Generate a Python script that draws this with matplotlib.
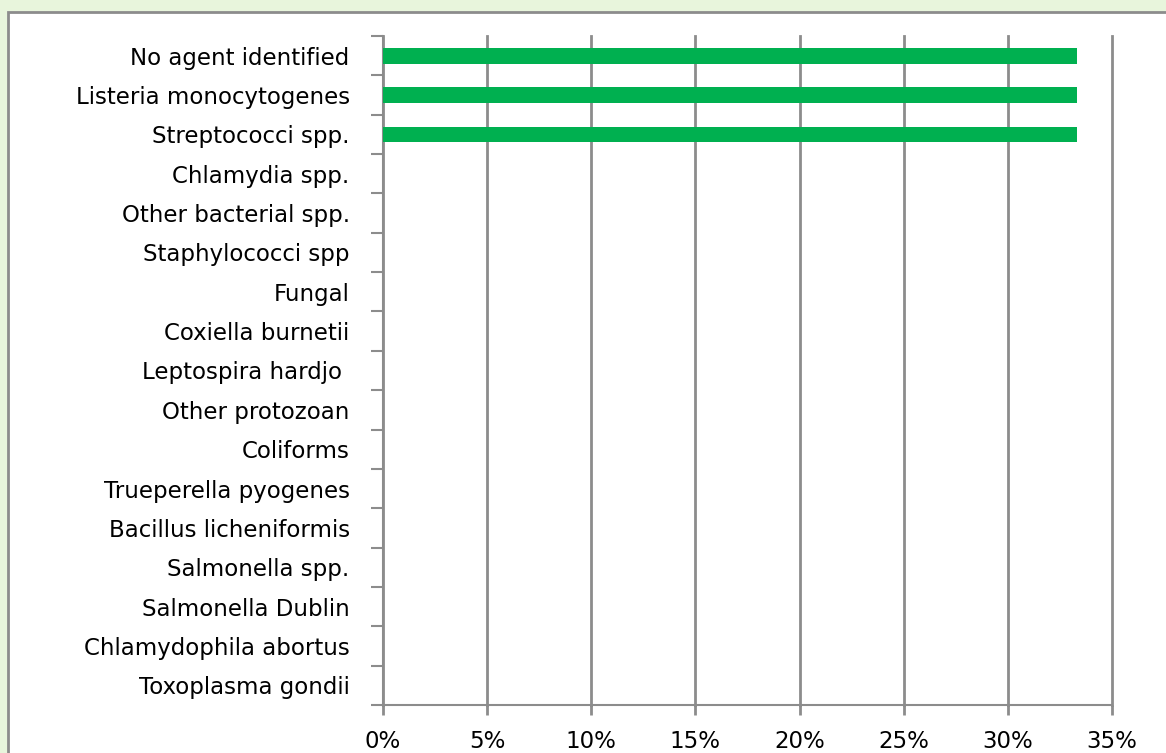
import numpy as np
import matplotlib
matplotlib.use("Agg")
import matplotlib.pyplot as plt
from matplotlib.patches import Rectangle
from matplotlib.ticker import FuncFormatter, FixedLocator

agents = ["No agent identified", "Listeria monocytogenes", "Streptococci spp.",
          "Chlamydia spp.", "Other bacterial spp.", "Staphylococci spp",
          "Fungal", "Coxiella burnetii", "Leptospira hardjo ", "Other protozoan",
          "Coliforms", "Trueperella pyogenes", "Bacillus licheniformis",
          "Salmonella spp.", "Salmonella Dublin", "Chlamydophila abortus",
          "Toxoplasma gondii"]
share = [1/3, 1/3, 1/3, 0, 0, 0, 0, 0, 0, 0, 0, 0, 0, 0, 0, 0, 0]

plt.rcParams['font.family'] = ['DejaVu Sans']

fig = plt.figure(figsize=(11.66, 7.53), dpi=100)
fig.patch.set_facecolor('#E8F5DC')
# white chart panel with grey border
fig.patches.append(Rectangle((8/1166, -0.05), 1.1, 1 - 12/753 + 0.05,
                             transform=fig.transFigure, facecolor='white',
                             edgecolor='#8C8C8C', linewidth=2, zorder=-5))

ax = fig.add_axes([383/1166, 1 - 705/753, (1112-383)/1166, (705-36)/753])
ax.set_zorder(2)
ax.set_facecolor('white')

y = np.arange(len(agents))
ax.barh(y, share, height=0.4, color='#00B050', zorder=3)
ax.set_ylim(len(agents) - 0.5, -0.5)
ax.set_xlim(0, 0.35)

ax.set_xticks(np.arange(0, 0.351, 0.05))
ax.xaxis.set_major_formatter(FuncFormatter(lambda v, p: f"{v*100:.0f}%"))
ax.grid(axis='x', color='#8C8C8C', linewidth=2, zorder=0)
for gl in ax.get_xgridlines():
    gl.set_clip_on(False)

ax.set_yticks(y)
ax.set_yticklabels(agents)
ax.yaxis.set_minor_locator(FixedLocator(np.arange(-0.5, len(agents), 1)))
ax.tick_params(axis='y', which='major', length=0, pad=24, labelsize=16.5)
ax.tick_params(axis='y', which='minor', length=9, width=1.5, color='#8C8C8C')
ax.tick_params(axis='x', length=7, width=2, color='#8C8C8C', labelsize=16.5, pad=11)

for s in ['top', 'right']:
    ax.spines[s].set_visible(False)
for s in ['left', 'bottom']:
    ax.spines[s].set_color('#8C8C8C')
    ax.spines[s].set_linewidth(1.5)

fig.savefig("out.png", dpi=100, facecolor=fig.get_facecolor())
